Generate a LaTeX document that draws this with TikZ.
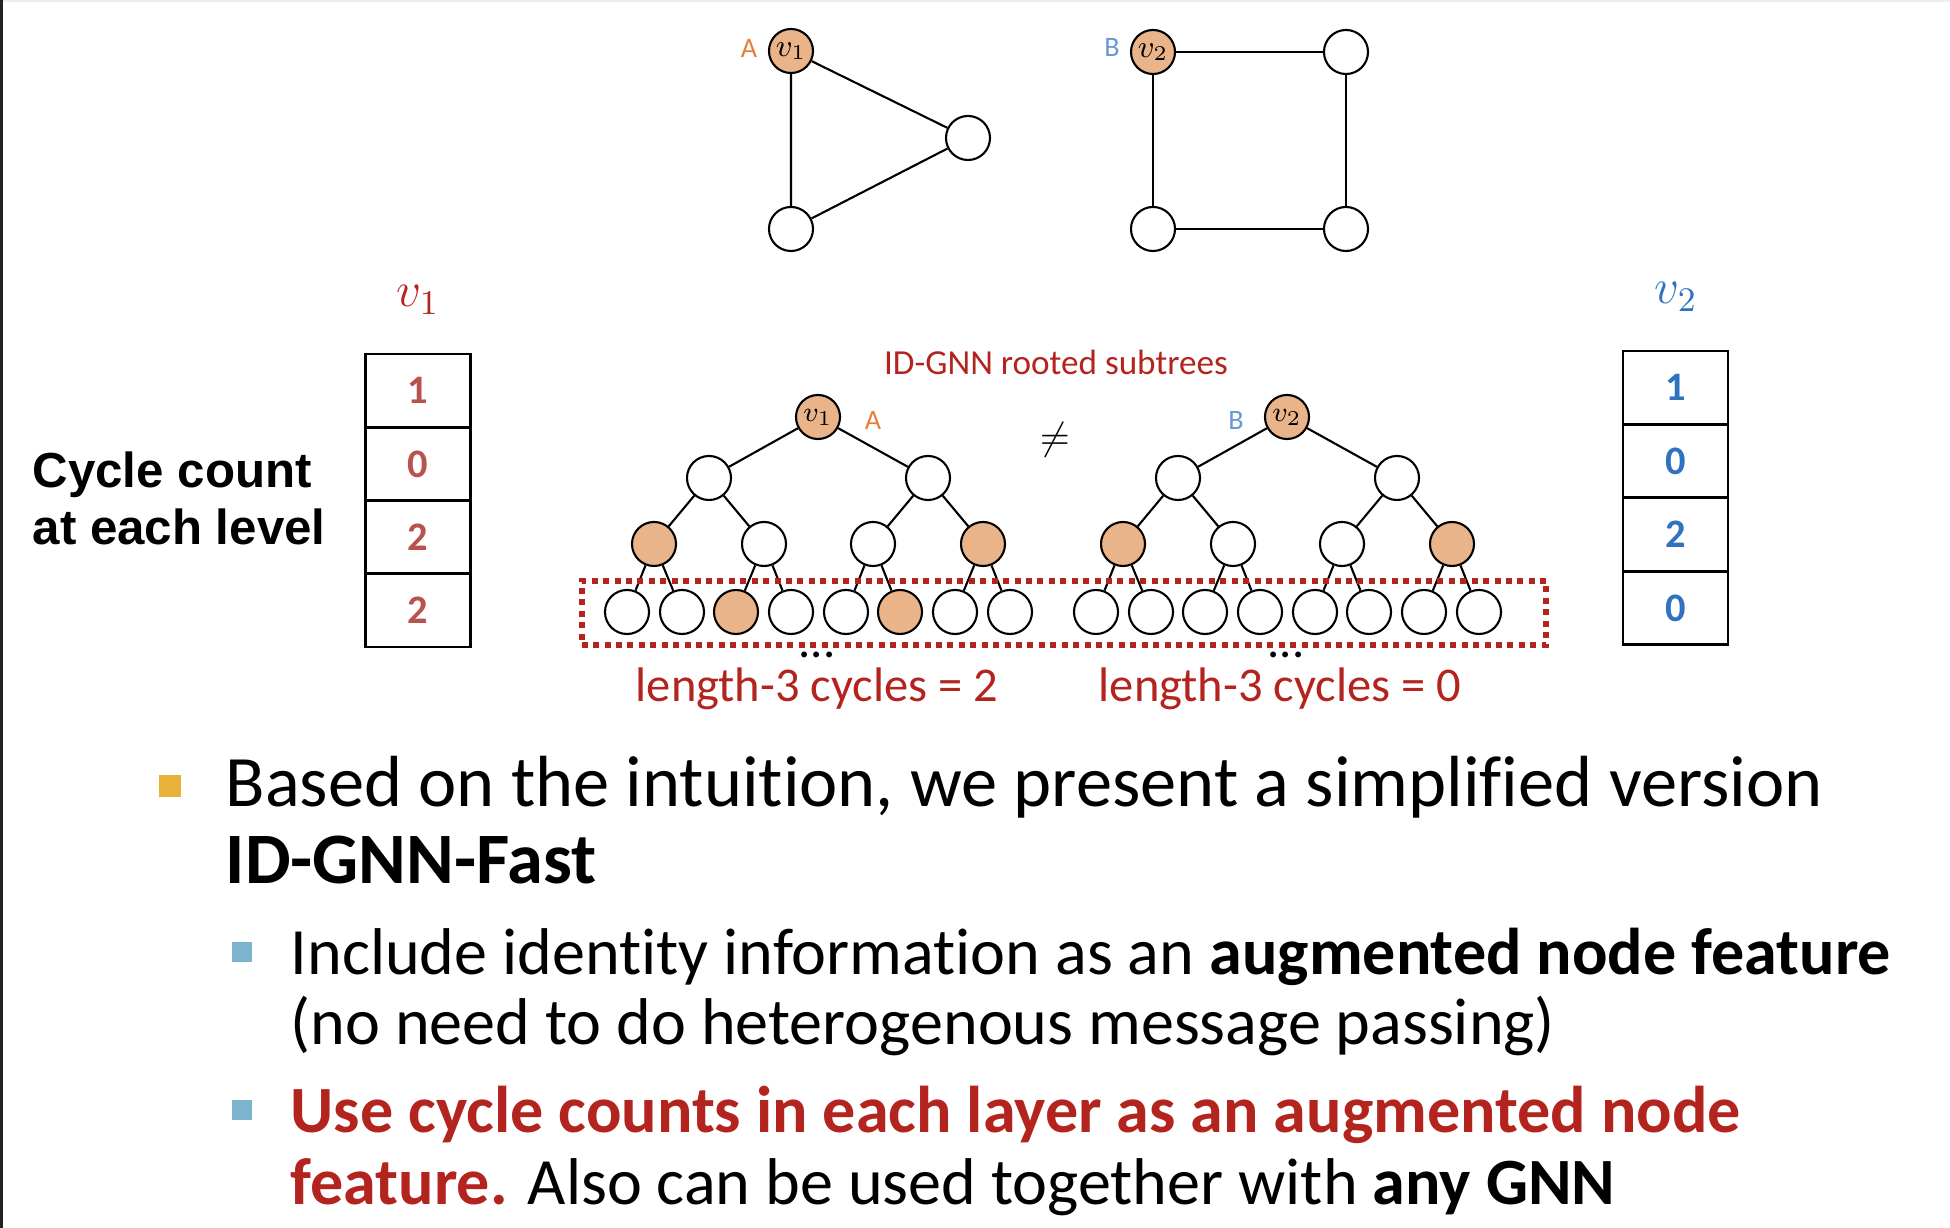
\RequirePackage{fix-cm}
\documentclass[tikz,border=0pt]{standalone}
\usepackage{fontspec}
\setmainfont{Carlito}[Ligatures=NoCommon]
\newfontfamily\arialfont{Liberation Sans}
\usetikzlibrary{positioning}

\definecolor{idred}{RGB}{180,36,30}
\definecolor{cntred}{RGB}{184,82,78}
\definecolor{cntblue}{RGB}{46,114,192}
\definecolor{nodeorange}{RGB}{234,180,138}
\definecolor{labA}{RGB}{232,126,56}
\definecolor{labB}{RGB}{104,152,214}
\definecolor{bulorange}{RGB}{232,178,58}
\definecolor{bulblue}{RGB}{122,180,205}
\definecolor{framegray}{RGB}{34,34,34}

\begin{document}
\begin{tikzpicture}[x=0.01cm, y=-0.01cm,
  gnode/.style={circle, draw, line width=0.6pt, minimum size=0.44cm, inner sep=0pt},
  hit/.style={gnode, fill=nodeorange},
  link/.style={line width=0.6pt},
  cell/.style={draw, line width=0.8pt, minimum width=1.05cm, minimum height=0.733cm, inner sep=0pt, font=\fontsize{11.5}{13}\selectfont\bfseries},
  tag/.style={inner sep=0pt, font=\fontsize{8}{9}\selectfont},
  bullettext/.style={anchor=base west, inner sep=0pt, font=\fontsize{20.6}{24}\selectfont},
  subtext/.style={anchor=base west, inner sep=0pt, font=\fontsize{18.8}{22}\selectfont},
]
\useasboundingbox (0,0) rectangle (1950,1228);

% slide frame
\fill[framegray] (0,0) rectangle (3,1228);
\fill[black!7] (3,0) rectangle (1950,2);

% input graphs: triangle and square
\node[hit, font=\fontsize{9}{9}\selectfont] at (791, 51) (gv1) {$v_1$};
\node[gnode] at (968, 138) (gt2) {};
\node[gnode] at (791, 229) (gt3) {};
\draw[link] (gv1) -- (gt2) (gt2) -- (gt3) (gt3) -- (gv1);
\node[tag, text=labA] at (749, 48) (gA) {A};

\node[hit, font=\fontsize{9}{9}\selectfont] at (1153, 52) (gv2) {$v_2$};
\node[gnode] at (1346, 52) (gs2) {};
\node[gnode] at (1153, 229) (gs3) {};
\node[gnode] at (1346, 229) (gs4) {};
\draw[link] (gv2) -- (gs2) (gs2) -- (gs4) (gs4) -- (gs3) (gs3) -- (gv2);
\node[tag, text=labB] at (1112, 47) (gB) {B};

% title
\node[anchor=base, inner sep=0pt, text=idred, font=\fontsize{10}{12}\selectfont] at (1056, 375) (title) {ID-GNN rooted subtrees};

% rooted subtree of v1
\node[hit, font=\fontsize{8}{8}\selectfont] at (818, 417) (root1) {$v_1$};
\node[tag, text=labA] at (873, 420) (tA) {A};
\node[gnode] at (709, 478) (m11) {};
\node[gnode] at (928, 478) (m12) {};
\node[hit]   at (654, 544) (k11) {};
\node[gnode] at (764, 544) (k12) {};
\node[gnode] at (873, 544) (k13) {};
\node[hit]   at (983, 544) (k14) {};
\node[gnode] at (627, 612) (l11) {};
\node[gnode] at (682, 612) (l12) {};
\node[hit]   at (736, 612) (l13) {};
\node[gnode] at (791, 612) (l14) {};
\node[gnode] at (846, 612) (l15) {};
\node[hit]   at (900, 612) (l16) {};
\node[gnode] at (955, 612) (l17) {};
\node[gnode] at (1010, 612) (l18) {};
\draw[link] (root1) -- (m11) (root1) -- (m12);
\draw[link] (m11) -- (k11) (m11) -- (k12) (m12) -- (k13) (m12) -- (k14);
\draw[link] (k11) -- (l11) (k11) -- (l12) (k12) -- (l13) (k12) -- (l14);
\draw[link] (k13) -- (l15) (k13) -- (l16) (k14) -- (l17) (k14) -- (l18);

% not equal
\node[font=\fontsize{11}{11}\selectfont] at (1055, 440) (neq) {$\neq$};

% rooted subtree of v2
\node[hit, font=\fontsize{8}{8}\selectfont] at (1287, 417) (root2) {$v_2$};
\node[tag, text=labB] at (1236, 420) (tB) {B};
\node[gnode] at (1178, 478) (m21) {};
\node[gnode] at (1397, 478) (m22) {};
\node[hit]   at (1123, 544) (k21) {};
\node[gnode] at (1233, 544) (k22) {};
\node[gnode] at (1342, 544) (k23) {};
\node[hit]   at (1452, 544) (k24) {};
\node[gnode] at (1096, 612) (l21) {};
\node[gnode] at (1151, 612) (l22) {};
\node[gnode] at (1205, 612) (l23) {};
\node[gnode] at (1260, 612) (l24) {};
\node[gnode] at (1315, 612) (l25) {};
\node[gnode] at (1369, 612) (l26) {};
\node[gnode] at (1424, 612) (l27) {};
\node[gnode] at (1479, 612) (l28) {};
\draw[link] (root2) -- (m21) (root2) -- (m22);
\draw[link] (m21) -- (k21) (m21) -- (k22) (m22) -- (k23) (m22) -- (k24);
\draw[link] (k21) -- (l21) (k21) -- (l22) (k22) -- (l23) (k22) -- (l24);
\draw[link] (k23) -- (l25) (k23) -- (l26) (k24) -- (l27) (k24) -- (l28);

% last level frame and counts
\node[draw=idred, line width=1.6pt, dash pattern=on 1.7pt off 1.55pt, minimum width=9.64cm, minimum height=0.64cm, inner sep=0pt] at (1064, 613) (leafbox) {};
\node[anchor=base, inner sep=0pt, font=\fontsize{13.8}{16}\selectfont] at (817, 658) (dots1) {...};
\node[anchor=base, inner sep=0pt, font=\fontsize{13.8}{16}\selectfont] at (1286, 658) (dots2) {...};
\node[anchor=base, inner sep=0pt, text=idred, font=\fontsize{13.8}{16}\selectfont] at (817, 702) (len1) {length-3 cycles = 2};
\node[anchor=base, inner sep=0pt, text=idred, font=\fontsize{13.8}{16}\selectfont] at (1280, 702) (len2) {length-3 cycles = 0};

% cycle count vectors
\node[anchor=base west, inner sep=0pt, font=\arialfont\bfseries\fontsize{14}{16}\selectfont] at (32, 488) (cc1) {Cycle count};
\node[anchor=base west, inner sep=0pt, font=\arialfont\bfseries\fontsize{14}{16}\selectfont] at (32, 545) (cc2) {at each level};

\node[text=idred, font=\fontsize{14}{14}\selectfont] at (418, 300) (vec1) {$v_1$};
\node[cell, text=cntred] at (418, 390.6) (c11) {1};
\node[cell, text=cntred] at (418, 463.9) (c12) {0};
\node[cell, text=cntred] at (418, 537.1) (c13) {2};
\node[cell, text=cntred] at (418, 610.4) (c14) {2};

\node[text=cntblue, font=\fontsize{14}{14}\selectfont] at (1676, 297) (vec2) {$v_2$};
\node[cell, text=cntblue] at (1675.5, 387.7) (c21) {1};
\node[cell, text=cntblue] at (1675.5, 461.2) (c22) {0};
\node[cell, text=cntblue] at (1675.5, 534.7) (c23) {2};
\node[cell, text=cntblue] at (1675.5, 608.2) (c24) {0};

% bullet points
\node[fill=bulorange, minimum size=0.22cm, inner sep=0pt] at (170, 786) (bul1) {};
\node[bullettext] at (225, 807) (line1) {Based on the intuition, we present a simplified version};
\node[bullettext] at (225, 884) (line2) {\bfseries ID-GNN-Fast};

\node[fill=bulblue, minimum size=0.19cm, inner sep=0pt] at (242, 952) (bul2) {};
\node[subtext] at (290, 975) (line3) {Include identity information as an \textbf{augmented node feature}};
\node[subtext] at (290, 1045) (line4) {(no need to do heterogenous message passing)};

\node[fill=bulblue, minimum size=0.19cm, inner sep=0pt] at (242, 1110) (bul3) {};
\node[subtext] at (290, 1133) (line5) {\textcolor{idred}{\bfseries Use cycle counts in each layer as an augmented node}};
\node[subtext] at (290, 1205) (line6) {\textcolor{idred}{\bfseries feature.} Also can be used together with \textbf{any GNN}};

\end{tikzpicture}
\end{document}
